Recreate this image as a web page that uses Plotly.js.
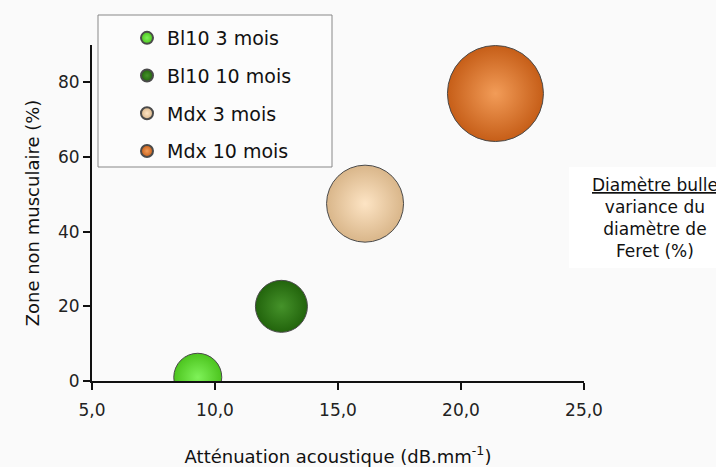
<!DOCTYPE html>
<html>
<head>
<meta charset="utf-8">
<script src="https://cdn.plot.ly/plotly-3.0.1.min.js"></script>
<style>html,body{margin:0;padding:0;background:#fafafa;}#chart{width:716px;height:467px;}</style>
</head>
<body>
<div id="chart"></div>
<script>
const series = ['Bl10 3 mois', 'Bl10 10 mois', 'Mdx 3 mois', 'Mdx 10 mois'];
const attenuation = [9.3, 12.7, 16.1, 21.4];
const zoneNonMusculaire = [1, 20, 47.5, 77];
const feretVariance = [24, 26, 38.5, 48];
const edgeColors = ['#4cc41e', '#22640c', '#d9b68a', '#c65e18'];
const centerColors = ['#7ff259', '#45922a', '#fde4c4', '#f29c58'];
const xTicks = [5, 10, 15, 20, 25];
const yTicks = [0, 20, 40, 60, 80];

const FONT = 'DejaVu Sans, sans-serif';

const traces = series.map((name, i) => ({
  type: 'scatter',
  mode: 'markers',
  name: name,
  legendgroup: 'g' + i,
  x: [attenuation[i]],
  y: [zoneNonMusculaire[i]],
  cliponaxis: true,
  marker: {
    size: [feretVariance[i]],
    sizemode: 'diameter',
    sizeref: 0.5,
    opacity: 1,
    color: edgeColors[i],
    gradient: {type: 'radial', color: centerColors[i]},
    line: {color: '#4a4a4a', width: 1}
  },
  hoverinfo: 'name+x+y'
}));

const L = 92, R = 132, T = 45, B = 86;
const W = 716 - L - R, H = 467 - T - B;
const px = v => (v - L) / W;
const py = v => (467 - B - v) / H;

const layout = {
  width: 716, height: 467,
  margin: {l: L, r: R, t: T, b: B, pad: 0},
  paper_bgcolor: '#fafafa',
  plot_bgcolor: '#fafafa',
  separators: ', ',
  font: {family: FONT, color: '#111111', size: 17},
  showlegend: true,
  legend: {
    x: px(127), y: py(19), xanchor: 'left', yanchor: 'top',
    bgcolor: 'rgba(0,0,0,0)', borderwidth: 0,
    font: {family: FONT, size: 19, color: '#111111'},
    itemsizing: 'constant',
    tracegroupgap: 10,
    traceorder: 'grouped'
  },
  xaxis: {
    range: [5, 25],
    tickvals: xTicks,
    tickformat: '.1f',
    ticks: 'outside', ticklen: 7, tickwidth: 2, tickcolor: '#111',
    ticklabelstandoff: 6,
    showline: true, linecolor: '#111', linewidth: 2,
    showgrid: false, zeroline: false,
    tickfont: {family: FONT, size: 17, color: '#222'},
    title: {text: 'Atténuation acoustique (dB.mm<sup>-1</sup>)', font: {family: FONT, size: 18, color: '#111'}, standoff: 32}
  },
  yaxis: {
    range: [0, 90],
    tickvals: yTicks,
    ticks: 'outside', ticklen: 7, tickwidth: 2, tickcolor: '#111',
    showline: true, linecolor: '#111', linewidth: 2,
    showgrid: false, zeroline: false,
    tickfont: {family: FONT, size: 17, color: '#222'},
    title: {text: 'Zone non musculaire (%)', font: {family: FONT, size: 18, color: '#111'}, standoff: 14}
  },
  shapes: [
    {type: 'rect', xref: 'paper', yref: 'paper', x0: px(98), x1: px(332), y0: py(167), y1: py(15),
     line: {color: '#888', width: 1}, fillcolor: '#fcfcfc', layer: 'below'},
    {type: 'rect', xref: 'paper', yref: 'paper', x0: px(569), x1: px(720), y0: py(268), y1: py(167),
     line: {width: 0}, fillcolor: '#ffffff', layer: 'below'}
  ],
  annotations: [
    {xref: 'paper', yref: 'paper', x: px(655), y: py(218), xanchor: 'center', yanchor: 'middle',
     text: '<span style="text-decoration:underline">Diamètre bulle</span><br>variance du<br>diamètre de<br>Feret (%)',
     showarrow: false, align: 'center', font: {family: FONT, size: 17, color: '#111'}}
  ]
};

Plotly.newPlot('chart', traces, layout, {displayModeBar: false, staticPlot: true});
</script>
</body>
</html>
